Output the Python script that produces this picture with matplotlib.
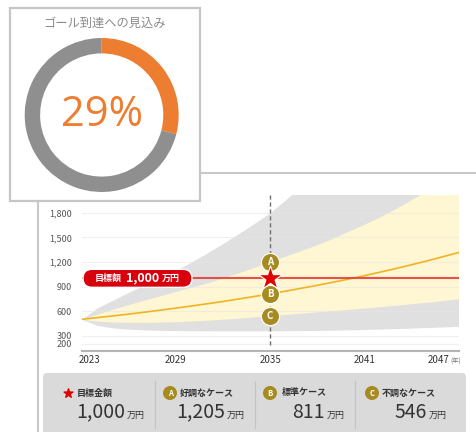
import matplotlib
matplotlib.use("Agg")
import matplotlib.pyplot as plt
import matplotlib.patches as patches
import matplotlib.transforms as mtransforms

plt.rcParams['font.family'] = ['Noto Sans CJK JP', 'DejaVu Sans']

# --- data ---
years = list(range(2023, 2048))
standard = [500, 521, 542, 564, 587, 612, 637, 663, 690, 718, 748, 779, 811,
            844, 879, 915, 952, 991, 1032, 1075, 1119, 1165, 1213, 1263, 1314]
good_upper = [500, 565, 625, 680, 735, 787, 840, 893, 945, 1005, 1068, 1135, 1205,
              1272, 1340, 1410, 1490, 1575, 1660, 1750, 1850, 1960, 2070, 2190, 2310]
bad_lower = [500, 478, 467, 463, 463, 466, 472, 480, 490, 502, 515, 530, 546,
             561, 576, 591, 606, 622, 638, 655, 672, 690, 709, 729, 750]
gray_upper = [500, 640, 735, 830, 920, 1010, 1100, 1200, 1310, 1425, 1545, 1670, 1800,
              1960, 2120, 2290, 2470, 2660, 2880, 3120, 3380, 3660, 3960, 4280, 4620]
gray_lower = [500, 425, 395, 380, 372, 366, 363, 361, 360, 359, 359, 359, 360,
              361, 363, 365, 368, 372, 376, 381, 387, 393, 400, 407, 415]

target = 1000
check_year = 2035
case_letters = ['A', 'B', 'C']
case_values = [1205, 811, 546]
case_names = ['好調なケース', '標準ケース', '不調なケース']
probability = 29

yticks = [200, 300, 600, 900, 1200, 1500, 1800]
xticks = [2023, 2029, 2035, 2041, 2047]

# --- colours ---
ORANGE = '#ed7d31'
GOLD = '#a68b20'
RED = '#d9000d'

W, H = 476, 432
fig = plt.figure(figsize=(W / 100, H / 100), dpi=100)

# background layer in pixel coordinates
bg = fig.add_axes([0, 0, 1, 1], zorder=0)
bg.set_xlim(0, W)
bg.set_ylim(H, 0)
bg.axis('off')
bg.plot([38, W], [173, 173], color='#c8c8c8', lw=1.5)
bg.plot([38, 38], [173, H], color='#c8c8c8', lw=1.5)

# summary box
bg.add_patch(patches.FancyBboxPatch((43, 373), 423, 70,
                                    boxstyle='round,pad=0,rounding_size=4',
                                    fc='#dadada', ec='none'))
for sx in [155, 255, 355]:
    bg.plot([sx, sx], [381, 428], color='#c4c4c4', lw=0.8)

col_icon_x = [68, 170, 270, 372]
col_label_x = [77, 180, 282, 382]
col_value_x = [125, 225, 325, 427]
labels = ['目標金額'] + case_names
values = [target] + case_values
for i in range(4):
    if i == 0:
        bg.scatter(col_icon_x[i], 393, marker='*', s=45, color='#e00000', zorder=3)
    else:
        bg.add_patch(patches.Circle((col_icon_x[i], 393), 6.3, color=GOLD, zorder=3))
        bg.text(col_icon_x[i], 393.5, case_letters[i - 1], color='white', fontsize=5.5,
                fontweight='bold', ha='center', va='center', zorder=4)
    bg.text(col_label_x[i], 393, labels[i], fontsize=6.5, fontweight='bold',
            color='#333333', ha='left', va='center')
    bg.text(col_value_x[i], 412, f'{values[i]:,}', fontsize=14, color='#333333',
            ha='right', va='center')
    bg.text(col_value_x[i] + 2, 415, '万円', fontsize=6.5, color='#333333',
            ha='left', va='center')

# main chart
ax = fig.add_axes([81.7 / W, 1 - 350.5 / H, (458.5 - 81.7) / W, (350.5 - 195) / H], zorder=1)
ax.patch.set_alpha(0)
ax.set_xlim(2023, 2047)
ax.set_ylim(120, 2016)

ax.fill_between(years, gray_lower, gray_upper, color='#e0e0e0', lw=0, zorder=1)
ax.fill_between(years, bad_lower, good_upper, color='#fff7d3', lw=0, zorder=2)
for yv in yticks:
    ax.axhline(yv, color='#e6e6e6', lw=0.8, alpha=0.6, zorder=2.5)
ax.plot(years, standard, color='#f0b323', lw=1.2, zorder=3)
ax.axhline(target, color='#e4403a', lw=1.5, alpha=0.9, zorder=3.5)
ax.vlines(check_year, 186, 2016, color='#707070', lw=1, linestyles=(0, (3, 2)), zorder=3.2)

ax.scatter([check_year] * 3, case_values, s=170, color=GOLD, edgecolor='white',
           lw=0.8, zorder=5)
for letter, val in zip(case_letters, case_values):
    ax.text(check_year, val, letter, color='white', fontsize=7, fontweight='bold',
            ha='center', va='center', zorder=6)
ax.scatter([check_year], [target], marker='*', s=330, color='#e00000',
           edgecolor='white', lw=0.8, zorder=7)

ax.set_yticks(yticks)
ax.set_yticklabels([f'{v:,}' for v in yticks], fontsize=6.5, color='#555555')
ax.set_xticks(xticks)
ax.set_xticklabels([''] + [str(v) for v in xticks[1:-1]] + [''], fontsize=7, color='#333333')
ax.tick_params(axis='y', length=0, pad=7)
ax.tick_params(axis='x', length=0, pad=3)
for side in ['top', 'right', 'left']:
    ax.spines[side].set_visible(False)
ax.spines['bottom'].set_color('#b4b4b4')
ax.spines['bottom'].set_linewidth(1.5)

# end labels pulled inwards, as in the reference (same baseline as the tick labels)
xtrans = ax.get_xaxis_transform()
pad_px = -3 * 100 / 72
ax.text(xticks[0], 0, str(xticks[0]), fontsize=7, color='#333333', ha='left', va='top',
        transform=mtransforms.offset_copy(xtrans, fig, x=-3, y=pad_px, units='dots'))
ax.text(xticks[-1], 0, str(xticks[-1]), fontsize=7, color='#333333', ha='right', va='top',
        transform=mtransforms.offset_copy(xtrans, fig, x=-9, y=pad_px, units='dots'))
ax.text(xticks[-1], 0, '(年)', fontsize=4.5, color='#777777', ha='left', va='top',
        transform=mtransforms.offset_copy(xtrans, fig, x=-8, y=pad_px - 3, units='dots'))

# top layer: card, donut, target pill
top = fig.add_axes([0, 0, 1, 1], zorder=3)
top.set_xlim(0, W)
top.set_ylim(H, 0)
top.axis('off')

fig.canvas.draw()
_, ty = ax.transData.transform((2023, target))
py = H - ty
top.add_patch(patches.FancyBboxPatch((83, py - 9), 109, 18,
                                     boxstyle='round,pad=0,rounding_size=9',
                                     fc=RED, ec='white', lw=1))
top.text(108, py, '目標額', color='white', fontsize=6.5, fontweight='bold',
         ha='center', va='center')
top.text(143, py, '1,000', color='white', fontsize=9, fontweight='bold',
         ha='center', va='center')
top.text(171, py, '万円', color='white', fontsize=6.5, fontweight='bold',
         ha='center', va='center')

top.add_patch(patches.Rectangle((10, 8), 189.5, 193, fc='white', ec='#c6c6c6', lw=1.6))
top.text(105, 23, 'ゴール到達への見込み', fontsize=8.8, color='#8a8a8a',
         ha='center', va='center')

donut = fig.add_axes([(101.7 - 77) / W, 1 - (115 + 77) / H, 154 / W, 154 / H], zorder=4)
donut.pie([probability, 100 - probability], colors=[ORANGE, '#8f8f8f'], startangle=90,
          counterclock=False, radius=1, wedgeprops=dict(width=0.2, lw=0))
donut.set_xlim(-1, 1)
donut.set_ylim(-1, 1)
donut.set_aspect('equal')
donut.text(0, 0, f'{probability}%', fontsize=30, color=ORANGE, ha='center', va='center',
           family='Open Sans')

fig.savefig('out.png', dpi=100)
